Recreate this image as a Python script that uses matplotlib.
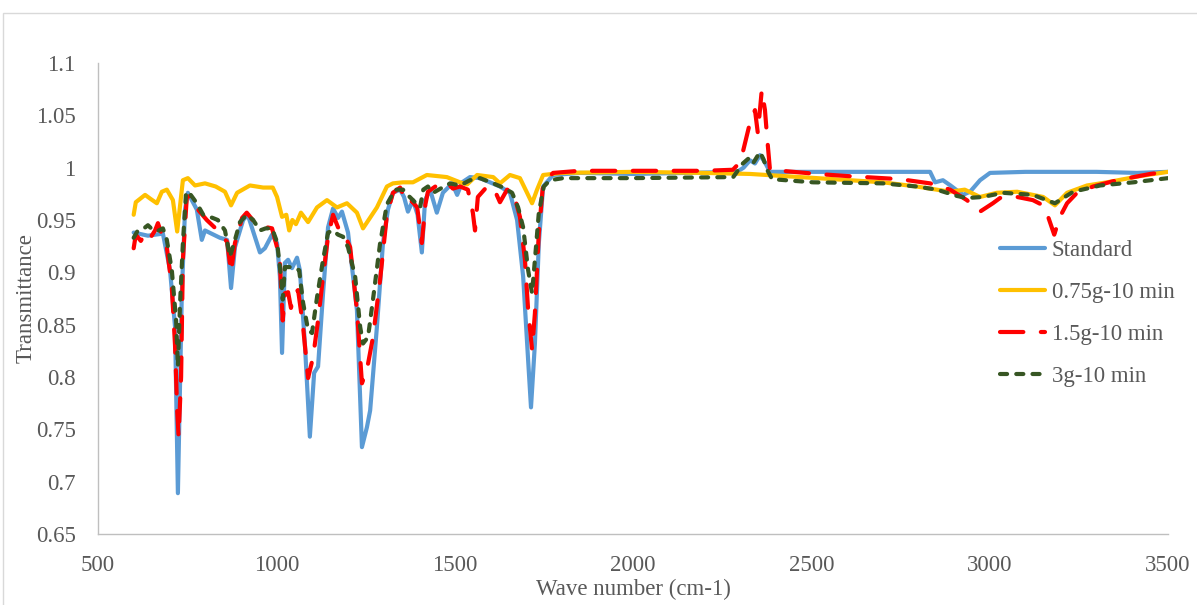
import numpy as np
import matplotlib
matplotlib.use('Agg')
import matplotlib.pyplot as plt
from matplotlib.patches import Rectangle
from matplotlib.ticker import FuncFormatter, MultipleLocator

# FTIR transmittance spectra, wave number in cm-1
std_x = [600, 640, 682, 702, 716, 724, 735, 744, 752, 777, 791, 800, 842, 862, 873, 884,
         907, 920, 954, 968, 988, 1002, 1010, 1016, 1024, 1033, 1044, 1058, 1066, 1080,
         1094, 1106, 1117, 1131, 1145, 1159, 1173, 1184, 1201, 1226, 1240, 1254, 1263,
         1282, 1299, 1313, 1327, 1347, 1358, 1369, 1383, 1396, 1408, 1417, 1431, 1450,
         1467, 1493, 1507, 1521, 1543, 1571, 1599, 1627, 1655, 1675, 1692, 1706, 1714,
         1725, 1736, 1748, 1776, 1851, 2000, 2150, 2292, 2310, 2328, 2342, 2356, 2370,
         2384, 2500, 2700, 2833, 2847, 2869, 2890, 2925, 2945, 2973, 3001, 3100, 3300,
         3413, 3500]
std_y = [0.938, 0.935, 0.937, 0.902, 0.848, 0.689, 0.880, 0.960, 0.976, 0.960, 0.931, 0.940,
         0.933, 0.931, 0.885, 0.924, 0.950, 0.955, 0.919, 0.923, 0.936, 0.928, 0.896, 0.823,
         0.909, 0.912, 0.904, 0.914, 0.902, 0.832, 0.743, 0.804, 0.810, 0.880, 0.943, 0.961,
         0.952, 0.958, 0.938, 0.864, 0.733, 0.752, 0.768, 0.848, 0.928, 0.960, 0.976, 0.979,
         0.972, 0.958, 0.969, 0.955, 0.919, 0.969, 0.979, 0.957, 0.976, 0.985, 0.974, 0.986,
         0.991, 0.990, 0.986, 0.982, 0.976, 0.950, 0.896, 0.816, 0.771, 0.832, 0.928, 0.982,
         0.993, 0.995, 0.994, 0.995, 0.996, 1.000, 1.007, 1.004, 1.012, 1.005, 0.996, 0.996,
         0.996, 0.996, 0.986, 0.988, 0.983, 0.974, 0.977, 0.988, 0.995, 0.996, 0.996, 0.995,
         0.996]

g075_x = [600, 606, 632, 648, 665, 679, 693, 710, 722, 738, 752, 772, 800, 830, 856, 873,
          890, 926, 963, 990, 1002, 1016, 1028, 1036, 1045, 1055, 1069, 1089, 1114, 1142,
          1170, 1198, 1226, 1243, 1282, 1310, 1327, 1355, 1383, 1422, 1478, 1515, 1535,
          1563, 1608, 1627, 1655, 1683, 1703, 1717, 1731, 1748, 1800, 2000, 2200, 2328,
          2516, 2701, 2795, 2889, 2930, 2973, 3020, 3077, 3121, 3150, 3183, 3217, 3273,
          3329, 3422, 3500]
g075_y = [0.955, 0.967, 0.974, 0.970, 0.966, 0.977, 0.979, 0.969, 0.939, 0.988, 0.990, 0.983,
          0.985, 0.982, 0.977, 0.964, 0.976, 0.983, 0.981, 0.981, 0.972, 0.953, 0.955, 0.940,
          0.950, 0.946, 0.957, 0.948, 0.962, 0.969, 0.962, 0.966, 0.957, 0.942, 0.962, 0.982,
          0.985, 0.986, 0.986, 0.993, 0.991, 0.986, 0.984, 0.993, 0.991, 0.985, 0.993, 0.990,
          0.976, 0.966, 0.979, 0.993, 0.995, 0.996, 0.995, 0.994, 0.990, 0.986, 0.982, 0.977,
          0.979, 0.972, 0.976, 0.977, 0.974, 0.972, 0.964, 0.976, 0.983, 0.986, 0.992, 0.996]

g15_x = [600, 606, 620, 632, 645, 660, 668, 680, 693, 707, 716, 722, 726, 733, 738, 749,
         760, 780, 805, 842, 862, 873, 884, 904, 917, 946, 988, 1002, 1010, 1018, 1024,
         1033, 1041, 1050, 1061, 1075, 1089, 1103, 1117, 1131, 1145, 1159, 1173, 1187,
         1207, 1226, 1240, 1254, 1271, 1291, 1310, 1327, 1347, 1366, 1380, 1395, 1408,
         1418, 1425, 1450, 1478, 1495, 1515, 1537, 1551, 1557, 1565, 1591, 1610, 1627,
         1647, 1665, 1683, 1697, 1706, 1717, 1725, 1736, 1748, 1776, 1850, 2000, 2200,
         2280, 2294, 2308, 2328, 2342, 2350, 2361, 2370, 2376, 2384, 2450, 2516, 2600,
         2749, 2833, 2889, 2936, 2973, 3009, 3029, 3077, 3121, 3150, 3164, 3181, 3197,
         3217, 3245, 3290, 3357, 3450, 3500]
g15_y = [0.923, 0.936, 0.930, 0.937, 0.932, 0.940, 0.947, 0.935, 0.924, 0.886, 0.830, 0.768,
         0.743, 0.800, 0.912, 0.972, 0.973, 0.960, 0.950, 0.938, 0.929, 0.900, 0.928, 0.952,
         0.957, 0.945, 0.942, 0.924, 0.909, 0.854, 0.880, 0.881, 0.866, 0.880, 0.883, 0.848,
         0.799, 0.819, 0.854, 0.896, 0.934, 0.955, 0.943, 0.939, 0.924, 0.864, 0.794, 0.807,
         0.838, 0.893, 0.955, 0.976, 0.981, 0.966, 0.968, 0.962, 0.928, 0.965, 0.977, 0.983,
         0.986, 0.980, 0.982, 0.979, 0.957, 0.940, 0.972, 0.982, 0.980, 0.967, 0.979, 0.976,
         0.953, 0.912, 0.864, 0.826, 0.861, 0.938, 0.985, 0.995, 0.997, 0.997, 0.997, 0.998,
         1.003, 1.015, 1.043, 1.055, 1.033, 1.074, 1.055, 1.029, 0.998, 0.996, 0.994, 0.992,
         0.989, 0.985, 0.979, 0.969, 0.958, 0.966, 0.971, 0.972, 0.969, 0.964, 0.953, 0.936,
         0.953, 0.966, 0.976, 0.982, 0.988, 0.994, 0.996]

g3_x = [600, 610, 625, 640, 655, 670, 682, 693, 707, 719, 724, 730, 738, 747, 760, 777,
        795, 814, 836, 856, 870, 884, 898, 917, 935, 954, 970, 988, 1002, 1013, 1018, 1024,
        1038, 1052, 1064, 1075, 1089, 1100, 1114, 1131, 1145, 1159, 1173, 1187, 1201, 1221,
        1235, 1243, 1257, 1271, 1291, 1310, 1333, 1355, 1368, 1383, 1403, 1412, 1425, 1440,
        1455, 1487, 1515, 1543, 1571, 1608, 1636, 1661, 1678, 1692, 1706, 1717, 1725, 1736,
        1750, 1767, 1804, 2000, 2281, 2308, 2328, 2338, 2356, 2366, 2376, 2390, 2505, 2701,
        2795, 2852, 2908, 2936, 2981, 3037, 3121, 3183, 3234, 3310, 3403, 3500]
g3_y = [0.933, 0.939, 0.941, 0.945, 0.940, 0.940, 0.942, 0.931, 0.902, 0.854, 0.810, 0.870,
        0.928, 0.977, 0.974, 0.966, 0.955, 0.953, 0.950, 0.940, 0.915, 0.931, 0.948, 0.955,
        0.950, 0.940, 0.942, 0.942, 0.929, 0.896, 0.874, 0.905, 0.905, 0.904, 0.902, 0.871,
        0.845, 0.842, 0.876, 0.912, 0.938, 0.940, 0.936, 0.934, 0.924, 0.896, 0.848, 0.832,
        0.838, 0.874, 0.928, 0.965, 0.979, 0.979, 0.974, 0.969, 0.962, 0.979, 0.982, 0.976,
        0.979, 0.985, 0.983, 0.988, 0.990, 0.985, 0.981, 0.976, 0.962, 0.943, 0.902, 0.880,
        0.912, 0.957, 0.982, 0.988, 0.990, 0.990, 0.991, 1.004, 1.010, 1.005, 1.015, 1.008,
        0.998, 0.989, 0.986, 0.985, 0.982, 0.979, 0.973, 0.971, 0.972, 0.976, 0.974, 0.966,
        0.977, 0.983, 0.986, 0.990]

labels = ['Standard', '0.75g-10 min', '1.5g-10 min', '3g-10 min']

plt.rcParams['font.family'] = ['Liberation Serif', 'DejaVu Serif']
txt = '#595959'
fs = 16.5
lw = 3.0

fig = plt.figure(figsize=(11.97, 6.05), dpi=100)
ax = fig.add_axes([98/1197, 1-534/605, 1070/1197, 471/605])

# outer chart border
fig.patches.append(Rectangle((3/1197, -0.1), 1.2, 1.1-13/605, transform=fig.transFigure,
                             fill=False, edgecolor='#D9D9D9', linewidth=1.0))

ax.plot(std_x, std_y, color='#5B9BD5', lw=lw, solid_capstyle='round', solid_joinstyle='round', label=labels[0])
ax.plot(g075_x, g075_y, color='#FFC000', lw=lw, solid_capstyle='round', solid_joinstyle='round', label=labels[1])
ax.plot(g15_x, g15_y, color='#FF0000', lw=lw, dashes=(5.6, 4.2), dash_capstyle='round', label=labels[2])
ax.plot(g3_x, g3_y, color='#375623', lw=lw, dashes=(1.7, 2.2), dash_capstyle='round', label=labels[3])

ax.set_xlim(500, 3500)
ax.set_ylim(0.65, 1.1)
ax.xaxis.set_major_locator(MultipleLocator(500))
ax.yaxis.set_major_locator(MultipleLocator(0.05))
ax.yaxis.set_major_formatter(FuncFormatter(lambda v, p: '%g' % round(v, 2)))

for s in ['top', 'right']:
    ax.spines[s].set_visible(False)
for s in ['left', 'bottom']:
    ax.spines[s].set_color('#BFBFBF')
    ax.spines[s].set_linewidth(1.0)

ax.tick_params(axis='both', length=0, labelsize=fs, labelcolor=txt)
ax.tick_params(axis='y', pad=16)
ax.tick_params(axis='x', pad=15)

ax.set_xlabel('Wave number (cm-1)', fontsize=fs, color=txt)
ax.set_ylabel('Transmittance', fontsize=fs, color=txt)
ax.xaxis.set_label_coords(0.5, -0.096)
ax.yaxis.set_label_coords(-0.057, 0.5)

leg = ax.legend(loc='upper left', bbox_to_anchor=(0.843, 0.625), frameon=False,
                fontsize=fs, handlelength=1.96, handletextpad=0.3, labelspacing=0.92,
                borderpad=0, borderaxespad=0)
for t in leg.get_texts():
    t.set_color(txt)

fig.savefig('out.png', dpi=100)
